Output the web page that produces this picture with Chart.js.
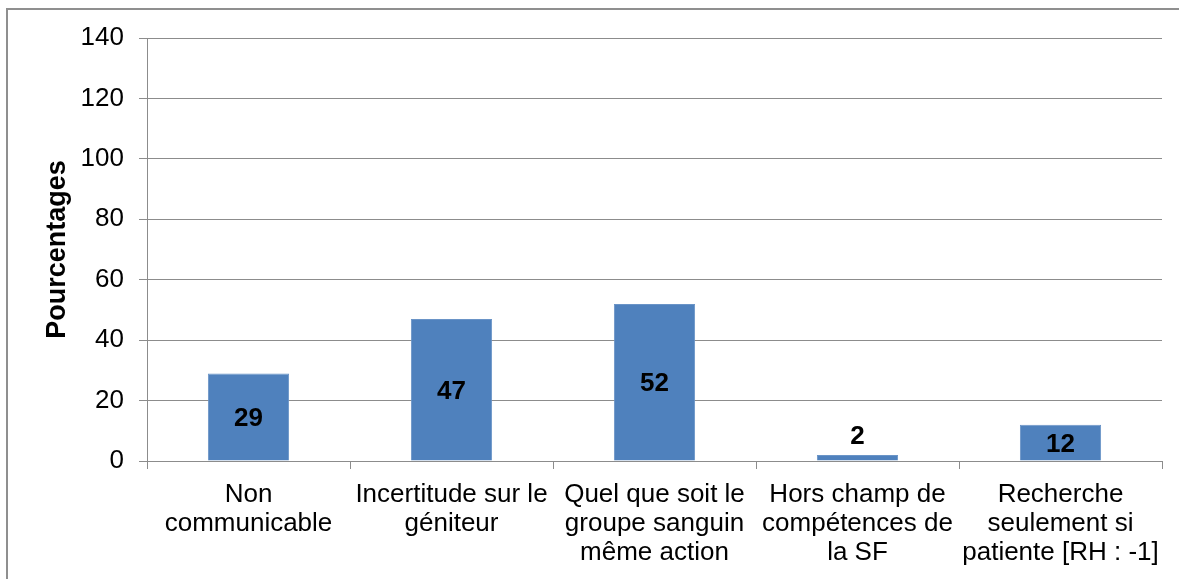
<!DOCTYPE html>
<html>
<head>
<meta charset="utf-8">
<script src="https://cdn.jsdelivr.net/npm/chart.js@4/dist/chart.umd.min.js"></script>
<style>
  html, body { margin: 0; padding: 0; background: #fff; overflow: hidden; }
  #wrap { position: relative; width: 1179px; height: 579px; }
  #frame { position: absolute; left: 6px; top: 8px; width: 1300px; height: 700px;
           border-left: 2px solid #8f8f8f; border-top: 2px solid #8f8f8f; pointer-events: none; }
  canvas { position: absolute; left: 0; top: 0; }
</style>
</head>
<body>
<div id="wrap">
  <div id="frame"></div>
  <canvas id="chart" width="1179" height="579"></canvas>
</div>
<script>
const categories = [
  ['Non', 'communicable'],
  ['Incertitude sur le', 'géniteur'],
  ['Quel que soit le', 'groupe sanguin', 'même action'],
  ['Hors champ de', 'compétences de', 'la SF'],
  ['Recherche', 'seulement si', 'patiente [RH : -1]']
];
const percentages = [29, 47, 52, 2, 12];
const yTicks = [0, 20, 40, 60, 80, 100, 120, 140];

const FONT = '"Liberation Sans", Arial, sans-serif';

// value labels: centred in the bar, above it when the bar is too short
const barLabels = {
  id: 'barLabels',
  afterDatasetsDraw(chart) {
    const ctx = chart.ctx;
    const meta = chart.getDatasetMeta(0);
    ctx.save();
    ctx.font = 'bold 26px ' + FONT;
    ctx.fillStyle = '#000';
    ctx.textAlign = 'center';
    ctx.textBaseline = 'middle';
    meta.data.forEach((bar, i) => {
      const h = bar.base - bar.y;
      const y = h > 26 ? (bar.y + bar.base) / 2 + 2 : bar.y - 18;
      ctx.fillText(String(percentages[i]), bar.x, y);
    });
    ctx.restore();
  }
};

new Chart(document.getElementById('chart'), {
  type: 'bar',
  data: {
    labels: categories,
    datasets: [{
      data: percentages,
      backgroundColor: '#4f81bd',
      borderColor: '#6a94c7',
      borderWidth: 1,
      categoryPercentage: 1,
      barPercentage: 0.4
    }]
  },
  options: {
    responsive: false,
    animation: false,
    events: [],
    layout: { padding: { left: 0, right: 17, top: 38, bottom: 0 } },
    plugins: { legend: { display: false }, tooltip: { enabled: false } },
    scales: {
      x: {
        offset: true,
        border: { color: '#8c8c8c', width: 1 },
        grid: { offset: true, drawOnChartArea: false, drawTicks: true, tickLength: 8, color: '#8c8c8c' },
        ticks: {
          autoSkip: false, maxRotation: 0, minRotation: 0, padding: 11,
          color: '#000', font: { family: FONT, size: 26, lineHeight: 1.115 }
        },
        afterFit: (scale) => { scale.height = 118; }
      },
      y: {
        min: 0,
        max: 140,
        afterBuildTicks: (scale) => { scale.ticks = yTicks.map((v) => ({ value: v })); },
        border: { color: '#8c8c8c', width: 1 },
        grid: { color: '#8c8c8c', tickLength: 8 },
        ticks: { padding: 15, color: '#000', font: { family: FONT, size: 26 } },
        title: {
          display: true,
          text: 'Pourcentages',
          color: '#000',
          font: { family: FONT, size: 27, weight: 'bold' },
          padding: { top: 41, bottom: 0 }
        },
        afterFit: (scale) => { scale.width = 147; }
      }
    }
  },
  plugins: [barLabels]
});
</script>
</body>
</html>
